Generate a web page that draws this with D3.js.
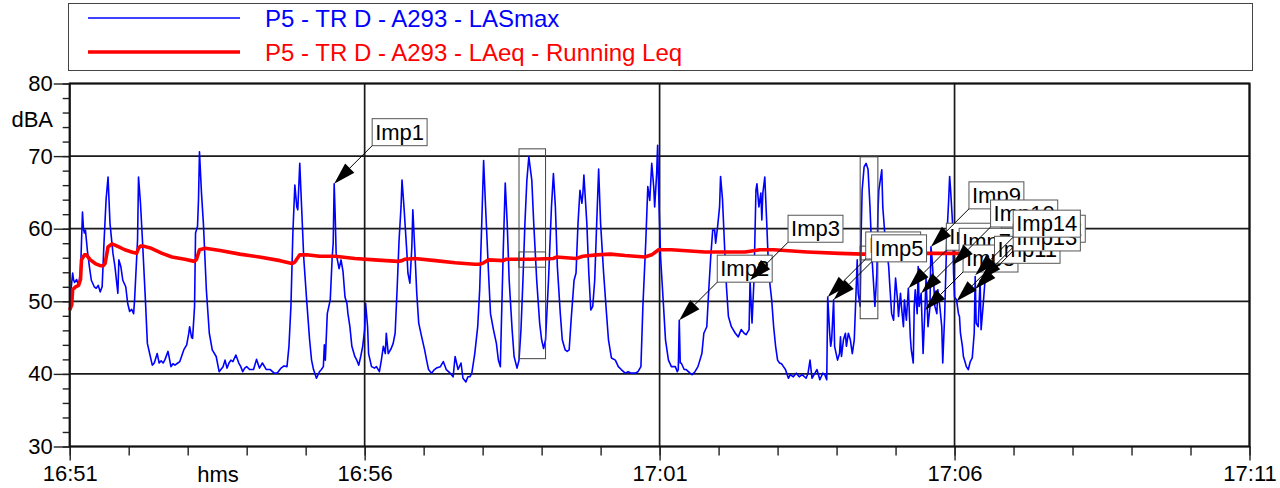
<!DOCTYPE html>
<html>
<head>
<meta charset="utf-8">
<script src="https://cdn.jsdelivr.net/npm/d3@7"></script>
<style>
  body { margin: 0; background: #fff; }
  svg { display: block; font-family: Arial, "Liberation Sans", sans-serif; }
</style>
</head>
<body>
<svg id="chart" width="1280" height="488"></svg>
<script>
// ---- data (seconds after 16:51:00, dBA) ----
const lasmaxSec = [0,3,4,5,7,9,11,13,14,15,16,18,20,22,25,27,29,31,33,35,37,39,41,44,46,49,50,52,54,57,59,61,63,65,66,69,70,72,74,77,79,82,84,86,89,91,93,95,97,100,103,105,107,110,112,114,116,119,121,122,124,125,127,128,130,131,132,134,136,139,142,145,149,152,156,158,160,162,164,166,169,172,174,176,178,180,183,187,190,193,196,200,204,208,211,215,218,221,223,225,227,229,231,232,234,236,238,241,244,246,248,251,254,256,258,259,260,262,265,267,268,269,270,271,274,276,278,280,282,283,285,287,290,292,294,296,298,300,301,303,304,307,310,312,315,317,319,321,322,324,327,329,331,333,335,337,338,340,343,344,346,348,349,351,353,355,358,361,363,365,368,371,373,377,380,383,387,390,392,395,398,400,403,405,407,409,412,415,417,419,421,423,426,428,431,434,436,438,439,441,443,445,447,450,452,455,457,459,461,463,465,467,470,472,475,478,480,482,484,487,490,492,494,496,499,501,504,506,508,510,513,515,517,519,521,522,523,526,528,530,532,534,536,538,540,543,546,548,551,555,558,561,565,568,571,575,578,581,583,586,588,590,592,594,595,597,598,599,601,604,606,609,612,614,616,618,619,620,621,622,625,627,631,633,636,639,641,643,645,648,650,652,654,656,657,659,661,662,664,666,668,670,673,677,680,683,686,688,691,692,694,696,698,699,701,703,704,705,707,709,711,714,716,718,720,722,724,726,728,731,733,736,739,742,745,749,751,753,755,758,760,763,766,768,770,771,773,774,775,777,778,781,783,784,785,787,789,790,792,794,796,798,800,801,802,804,805,806,808,810,812,814,816,818,819,821,822,823,826,827,829,831,833,834,836,838,839,840,842,843,845,846,848,849,851,853,855,856,858,859,860,862,863,864,866,867,868,870,871,873,875,876,877,879,880,882,883,885,887,888,890,892,894,895,896,898,899,900,902,904,905,906,908,909,911,912,914,916,918,920,921,922,924,926,927,929,931,933,934,936,938,939]
const lasmaxDb = [49.7,53.9,52.9,52.6,53.0,52.2,54.0,62.3,60.0,59.4,59.8,57.0,54.8,52.9,52.0,51.8,52.2,51.3,52.0,58.4,64.0,67.1,60.7,56.6,54.8,51.1,55.7,54.8,52.9,52.0,49.7,48.6,48.9,48.3,50.2,58.4,67.1,63.5,58.4,50.2,44.2,42.4,41.2,41.5,42.8,41.5,41.8,41.5,42.0,43.1,41.0,41.4,41.2,41.5,41.7,42.5,43.3,44.0,45.5,46.5,45.0,44.9,49.3,59.4,60.3,64.0,70.6,65.0,60.7,51.6,45.6,43.3,42.4,40.3,41.0,41.9,40.8,41.5,41.9,41.7,42.6,41.5,41.0,40.3,40.8,41.0,40.6,40.6,42.0,40.8,41.5,40.6,40.6,40.1,40.1,40.8,41.1,41.0,43.8,49.3,59.4,66.0,63.0,62.6,69.0,62.6,56.1,50.2,44.7,41.9,40.6,39.4,40.3,40.6,41.0,44.0,41.9,48.3,50.2,56.1,58.0,66.2,62.0,56.6,54.5,55.7,54.1,50.6,49.7,48.3,46.5,43.8,42.4,41.9,41.2,42.4,43.8,46.1,49.7,46.5,42.8,41.0,40.8,41.0,40.3,41.9,43.8,42.8,45.6,42.8,43.5,44.2,45.6,51.6,58.4,63.0,66.7,63.0,56.6,53.9,52.5,57.5,62.6,57.1,51.1,47.0,45.1,43.3,41.9,40.6,40.1,40.6,40.8,41.0,41.7,40.6,40.1,39.6,42.4,40.6,41.5,39.4,38.9,39.6,39.6,40.1,42.8,46.5,51.6,60.3,69.4,63.0,53.9,48.3,46.1,44.2,41.9,41.0,46.5,57.1,66.3,60.7,52.9,46.1,42.4,40.8,41.9,46.1,52.9,60.7,66.7,69.9,66.7,60.7,52.9,47.0,44.7,43.5,44.7,52.9,63.0,67.6,63.0,54.8,48.3,44.7,43.3,43.1,43.3,47.4,52.9,53.9,60.7,65.3,63.5,64.9,67.4,60.7,53.9,48.8,49.3,52.9,60.7,68.2,60.7,54.0,48.3,44.7,42.2,41.9,41.0,40.6,40.1,40.3,40.1,40.1,40.3,41.0,49.3,58.4,65.8,63.9,69.0,65.8,63.0,67.6,71.5,65.3,56.1,49.3,44.7,41.9,41.0,41.0,41.0,40.3,40.6,47.4,41.5,41.5,40.6,40.6,40.1,39.9,40.3,41.0,41.9,42.8,45.6,46.5,51.6,56.1,59.8,59.8,58.0,60.3,63.0,67.2,64.0,57.8,52.0,47.9,46.5,45.6,45.1,46.1,45.6,45.4,46.1,52.9,47.0,52.9,65.3,66.2,63.0,64.9,61.2,64.9,67.1,60.7,53.9,50.2,46.5,43.8,41.9,41.5,41.4,41.0,40.6,39.4,39.9,39.6,40.1,39.6,39.9,39.4,40.1,41.9,39.4,40.1,40.6,39.2,40.1,39.9,39.2,50.6,45.6,43.8,44.7,50.2,43.8,41.9,42.8,45.1,42.4,44.7,45.6,43.8,45.6,44.7,42.8,44.7,52.0,55.7,51.1,49.3,59.4,65.3,68.5,69.0,68.2,63.0,56.1,51.6,49.3,53.9,62.1,65.3,68.1,63.0,59.4,57.1,54.8,52.5,48.3,47.4,50.6,53.2,50.2,47.9,51.1,49.3,46.5,50.2,47.4,51.8,45.1,43.3,41.5,49.3,51.6,48.3,54.8,49.3,51.1,47.0,42.8,49.3,53.2,46.5,49.3,57.5,56.1,52.0,49.3,48.3,51.6,49.3,46.5,41.5,48.3,58.4,63.9,67.2,65.3,60.7,53.9,50.6,50.2,48.3,47.9,45.6,43.8,42.4,41.5,41.0,40.6,41.7,42.2,45.6,53.4,47.0,46.5,52.9,46.1,49.3,52.9,54.8,57.1,59.4,61.7,63.0]

const leqSec = [0,2,3,6,9,11,12,15,17,21,26,31,34,36,39,43,50,56,63,68,70,72,75,83,94,104,117,127,129,132,138,153,173,193,214,226,229,234,241,254,270,290,310,334,338,341,351,372,392,412,417,421,426,441,444,468,492,495,515,522,536,550,565,585,592,599,612,646,687,702,716,750,783,807,871,902,939]
const leqDb = [48.8,49.5,51.6,52.0,52.2,53.0,55.7,56.4,56.4,55.7,55.2,54.9,54.9,55.2,57.5,57.9,57.5,57.1,56.8,56.6,57.3,57.6,57.6,57.3,56.6,56.1,55.8,55.5,55.8,57.1,57.3,57.0,56.5,56.1,55.6,55.2,55.4,56.4,56.4,56.2,56.2,55.9,55.7,55.5,55.6,55.8,55.9,55.6,55.3,55.1,55.1,55.3,55.7,55.6,55.8,55.8,55.9,56.1,55.9,56.2,56.4,56.5,56.3,56.1,56.4,57.1,57.1,56.8,56.8,57.1,57.1,56.8,56.6,56.5,56.6,56.6,56.5]

// impulse events (arrow tip)
const impNames = ['Imp1','Imp2','Imp3','Imp4','Imp5','Imp6','Imp7','Imp8','Imp9','Imp10','Imp11','Imp12','Imp13','Imp14']
const impSec = [269,620,692,771,777,853,866,870,876,898,902,926,921,921]
const impDb = [66.2,47.4,52.9,50.6,50.2,51.8,51.1,48.8,57.5,55.0,50.0,52.9,51.7,53.6]

// marked periods
const markStartSec = [457, 804]
const markEndSec = [484, 822]
const markMaxDb = [71.0, 69.9]
const markMinDb = [42.1, 47.6]
const markLeqHi = [56.8, 57.6]
const markLeqLo = [54.7, 55.7]

const yMajor = [30, 40, 50, 60, 70, 80]
const timeStart = '16:51'
const timeEnd = '17:11'
const seriesNames = ['P5 - TR D - A293 - LASmax', 'P5 - TR D - A293 - LAeq - Running Leq']

// ---- layout ----
const plot = { left: 69.7, right: 1249.5, top: 83.5, bottom: 446.5 }
const parseHM = d3.timeParse('%H:%M')
const t0 = parseHM(timeStart)
const t1 = parseHM(timeEnd)
const atSec = s => new Date(t0.getTime() + s * 1000)
const spanMin = (t1 - t0) / 60000
const majorTimes = d3.range(0, spanMin + 1, 5).map(m => atSec(m * 60))
const minorTimes = d3.range(0, spanMin + 1, 1).map(m => atSec(m * 60))

const x = d3.scaleTime().domain([t0, t1]).range([plot.left, plot.right])
const y = d3.scaleLinear().domain([30, 80]).range([plot.bottom, plot.top])

const svg = d3.select('#chart')

// legend
const legend = svg.append('g')
legend.append('rect')
    .attr('x', 68.5).attr('y', 3.5).attr('width', 1184).attr('height', 67)
    .attr('fill', '#fff').attr('stroke', '#444').attr('stroke-width', 1)
const legColors = ['#0000ff', '#ff0000']
const legWidths = [1.5, 3.5]
seriesNames.forEach((name, i) => {
    const ly = 18 + i * 34
    legend.append('line')
        .attr('x1', 88).attr('x2', 240).attr('y1', ly).attr('y2', ly)
        .attr('stroke', legColors[i]).attr('stroke-width', legWidths[i])
    legend.append('text')
        .attr('x', 265).attr('y', ly + 9)
        .attr('fill', legColors[i]).attr('font-size', 24)
        .text(name)
})

// grid
const grid = svg.append('g').attr('stroke', '#1a1a1a').attr('stroke-width', 1.7)
grid.selectAll('.hg').data(yMajor).enter().append('line')
    .attr('x1', plot.left).attr('x2', plot.right)
    .attr('y1', d => y(d)).attr('y2', d => y(d))
grid.selectAll('.vg').data(majorTimes).enter().append('line')
    .attr('x1', d => x(d)).attr('x2', d => x(d))
    .attr('y1', plot.top).attr('y2', plot.bottom)

// axes
const yMinor = svg.append('g').attr('transform', `translate(${plot.left},0)`)
    .call(d3.axisLeft(y).ticks(25).tickSize(7).tickFormat(''))
const yAxis = svg.append('g').attr('transform', `translate(${plot.left},0)`)
    .call(d3.axisLeft(y).tickValues(yMajor).tickSize(16).tickPadding(1))
const xMinor = svg.append('g').attr('transform', `translate(0,${plot.bottom})`)
    .call(d3.axisBottom(x).tickValues(minorTimes).tickSize(9).tickFormat(''))
const xAxis = svg.append('g').attr('transform', `translate(0,${plot.bottom})`)
    .call(d3.axisBottom(x).tickValues(majorTimes).tickSize(14).tickPadding(5)
        .tickFormat(d3.timeFormat('%H:%M')))
;[yMinor, yAxis, xMinor, xAxis].forEach(g => {
    g.select('.domain').remove()
    g.selectAll('line').attr('stroke', '#222').attr('stroke-width', 1.4)
    g.selectAll('text').attr('font-size', 22).attr('fill', '#000')
        .attr('font-family', 'Arial, "Liberation Sans", sans-serif')
})

svg.append('text').attr('x', 218).attr('y', plot.bottom + 35)
    .attr('text-anchor', 'middle').attr('font-size', 22).text('hms')
svg.append('text').attr('x', 53).attr('y', 127)
    .attr('text-anchor', 'end').attr('font-size', 22).text('dBA')

// series
const lasmax = lasmaxSec.map((s, i) => [atSec(s), lasmaxDb[i]])
const leq = leqSec.map((s, i) => [atSec(s), leqDb[i]])
const line = d3.line().x(d => x(d[0])).y(d => y(d[1]))

svg.append('path').datum(lasmax).attr('d', line)
    .attr('fill', 'none').attr('stroke', '#0000ff').attr('stroke-width', 1.6)
    .attr('stroke-linejoin', 'round')
svg.append('path').datum(leq).attr('d', line)
    .attr('fill', 'none').attr('stroke', '#ff0000').attr('stroke-width', 3.6)
    .attr('stroke-linejoin', 'round')

// frame
svg.append('rect')
    .attr('x', plot.left).attr('y', plot.top)
    .attr('width', plot.right - plot.left).attr('height', plot.bottom - plot.top)
    .attr('fill', 'none').attr('stroke', '#111').attr('stroke-width', 2)

// marked periods
markStartSec.forEach((s, i) => {
    const x0 = x(atSec(s)), x1 = x(atSec(markEndSec[i]))
    svg.append('rect').attr('x', x0).attr('y', y(markMaxDb[i]))
        .attr('width', x1 - x0).attr('height', y(markMinDb[i]) - y(markMaxDb[i]))
        .attr('fill', 'none').attr('stroke', '#444').attr('stroke-width', 1)
    svg.append('rect').attr('x', x0).attr('y', y(markLeqHi[i]))
        .attr('width', x1 - x0).attr('height', y(markLeqLo[i]) - y(markLeqHi[i]))
        .attr('fill', 'none').attr('stroke', '#444').attr('stroke-width', 1)
})

// impulse labels
const offX = 38, offY = -38, boxH = 27
impNames.forEach((name, i) => {
    const tx = x(atSec(impSec[i])), ty = y(impDb[i])
    const bx = tx + offX, by = ty + offY
    const g = svg.append('g')
    const rect = g.append('rect').attr('fill', '#fff').attr('stroke', '#555').attr('stroke-width', 1)
    const label = g.append('text').attr('x', bx + 3).attr('y', by - 6)
        .attr('font-size', 22).attr('fill', '#000').text(name)
    const w = label.node().getComputedTextLength() + 6
    rect.attr('x', bx).attr('y', by - boxH).attr('width', w).attr('height', boxH)
    // arrow
    const ang = Math.atan2(by - ty, bx - tx)
    const len = 22, half = 6.5
    const cx = tx + len * Math.cos(ang), cy = ty + len * Math.sin(ang)
    const px = -Math.sin(ang) * half, py = Math.cos(ang) * half
    g.append('line').attr('x1', bx).attr('y1', by).attr('x2', cx).attr('y2', cy)
        .attr('stroke', '#000').attr('stroke-width', 1)
    g.append('path')
        .attr('d', `M${tx},${ty}L${cx + px},${cy + py}L${cx - px},${cy - py}Z`)
        .attr('fill', '#000')
})
</script>
</body>
</html>
